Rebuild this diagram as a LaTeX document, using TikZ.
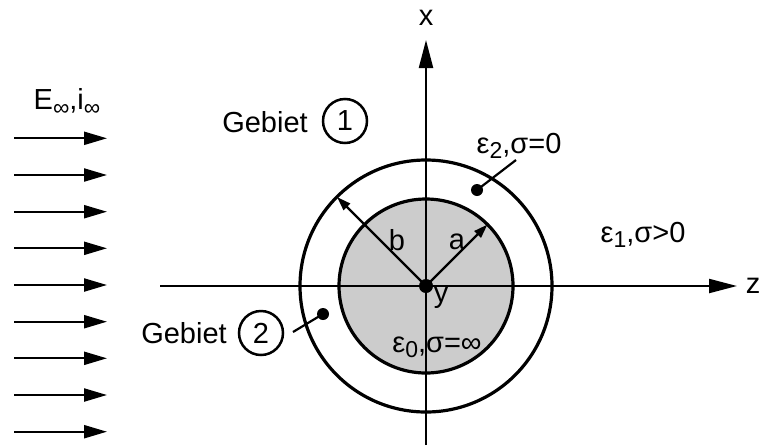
\documentclass[tikz,border=0pt]{standalone}
\usepackage{fontspec}
\setmainfont{Liberation Sans}
\usetikzlibrary{arrows.meta,positioning}
\newcommand{\tief}[1]{\raisebox{-0.35ex}{\fontsize{23}{23}\selectfont #1}}

\begin{document}
\begin{tikzpicture}[x=1pt,y=-1pt,line width=2.2pt,
  every node/.style={font=\fontsize{29}{31}\selectfont,inner sep=0pt},
  feld/.style={-{Triangle[length=23pt,width=13pt]}},
  achse/.style={-{Triangle[length=28pt,width=14pt]}},
  radius/.style={-{Triangle[length=14pt,width=9pt]}},
  nummer/.style={draw,circle,line width=2.5pt,minimum size=44pt}]
  \useasboundingbox (0,0) rectangle (759,445);
  % Kugel und Schale
  \coordinate (O) at (426,286);
  \draw[line width=3.2pt,fill=gray!40] (O) circle (87);
  \draw[line width=3.2pt] (O) circle (126);
  % Achsen
  \coordinate (x0) at (426,445);
  \coordinate (x1) at (426,40);
  \coordinate (z0) at (160,286);
  \coordinate (z1) at (737,286);
  \node (xl) at (426,18) {x};
  \node (zl) at (753,286) {z};
  \node (yl) at (441,298) {y};
  \draw[achse] (x0) -- (x1);
  \draw[achse] (z0) -- (z1);
  % Radien
  \coordinate (B) at (337,197);
  \coordinate (A) at (487.5,224.5);
  \draw[radius] (O) -- (B);
  \draw[radius] (O) -- (A);
  \node (bl) at (397,240) {b};
  \node (al) at (457,242) {a};
  \fill (O) circle (7);
  % aeusseres Feld
  \node (Ei) at (67,102) {E\tief{∞},i\tief{∞}};
  \coordinate (e1a) at (14,138.3);  \coordinate (e1b) at (107,138.3);
  \coordinate (e2a) at (14,175);    \coordinate (e2b) at (107,175);
  \coordinate (e3a) at (14,211.7);  \coordinate (e3b) at (107,211.7);
  \coordinate (e4a) at (14,248.3);  \coordinate (e4b) at (107,248.3);
  \coordinate (e5a) at (14,285);    \coordinate (e5b) at (107,285);
  \coordinate (e6a) at (14,321.7);  \coordinate (e6b) at (107,321.7);
  \coordinate (e7a) at (14,358.3);  \coordinate (e7b) at (107,358.3);
  \coordinate (e8a) at (14,395);    \coordinate (e8b) at (107,395);
  \coordinate (e9a) at (14,431.7);  \coordinate (e9b) at (107,431.7);
  \path[feld] (e1a) edge (e1b) (e2a) edge (e2b) (e3a) edge (e3b)
              (e4a) edge (e4b) (e5a) edge (e5b) (e6a) edge (e6b)
              (e7a) edge (e7b) (e8a) edge (e8b) (e9a) edge (e9b);
  % Gebiete
  \node (g1) at (265,122) {Gebiet};
  \node[nummer] (c1) at (345,121) {1};
  \node (g2) at (184,333) {Gebiet};
  \node[nummer] (c2) at (261,333) {2};
  \coordinate (p2) at (323,314);
  \coordinate (l2) at (293,332);
  \fill (p2) circle (6);
  \draw (l2) -- (p2);
  % Materialien
  \node (m2) at (519,146) {ε\tief{2},σ=0};
  \coordinate (p1) at (477,190);
  \coordinate (l1) at (516,160);
  \fill (p1) circle (6);
  \draw (p1) -- (l1);
  \node (m1) at (643,235) {ε\tief{1},σ>0};
  \node (m0) at (437,347) {ε\tief{0},σ=∞};
\end{tikzpicture}
\end{document}
